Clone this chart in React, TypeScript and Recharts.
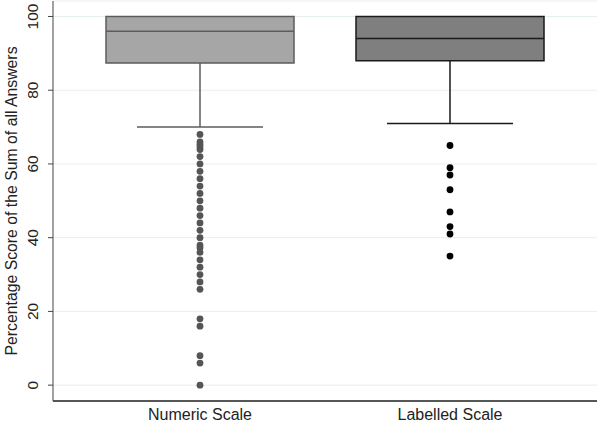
import React from "react";
import {
  ComposedChart,
  CartesianGrid,
  XAxis,
  YAxis,
  Scatter,
  ReferenceArea,
  ReferenceLine,
} from "recharts";

const categories = ["Numeric Scale", "Labelled Scale"];
const yTicks = [0, 20, 40, 60, 80, 100];

// box stats per category: [whisker low, q1, median, q3]
const numericBox = [70, 87.4, 96, 100];
const labelledBox = [71, 88, 94, 100];

const numericOutliers = [
  68, 66, 65.3, 64.6, 63.9, 62, 60, 58, 56, 54, 52, 50, 48, 46, 44, 42, 40, 38, 37.3, 36, 34, 32, 30,
  28, 26, 18, 16, 8, 6, 0,
];
const labelledOutliers = [65, 59, 57, 53, 47, 43, 41, 35];

const BOX_HALF = 0.376;
const CAP_HALF = 0.252;
const FONT = "Liberation Sans, Arial, sans-serif";

const boxes = [
  { pos: 1, stats: numericBox, fill: "#a6a6a6", stroke: "#5c5c5c" },
  { pos: 2, stats: labelledBox, fill: "#7f7f7f", stroke: "#1a1a1a" },
];

const YTick = ({ x, y, payload }: any) => (
  <text
    x={x - 15}
    y={y}
    transform={`rotate(-90, ${x - 15}, ${y})`}
    textAnchor="middle"
    dominantBaseline="central"
    fontSize={15.5}
    fill="#222"
    fontFamily={FONT}
  >
    {payload.value}
  </text>
);

const XTick = ({ x, y, payload }: any) => (
  <text x={x} y={y + 17} textAnchor="middle" fontSize={16} fill="#222" fontFamily={FONT}>
    {categories[payload.value - 1]}
  </text>
);

export default function App() {
  const numData = numericOutliers.map((v) => ({ x: 1, y: v }));
  const labData = labelledOutliers.map((v) => ({ x: 2, y: v }));

  return (
    <div style={{ width: 600, height: 422, background: "#fff" }}>
      <style>{`body{margin:0}`}</style>
      <ComposedChart width={600} height={422} margin={{ top: 1, right: 3, bottom: 0, left: 0 }}>
        <CartesianGrid horizontal vertical={false} stroke="#e6eff0" />
        <XAxis
          type="number"
          dataKey="x"
          domain={[0.412, 2.588]}
          ticks={[1, 2]}
          allowDataOverflow
          tick={<XTick />}
          tickLine={false}
          tickSize={0}
          height={21}
          axisLine={{ stroke: "#222", strokeWidth: 1.5 }}
        />
        <YAxis
          type="number"
          dataKey="y"
          domain={[-4.3, 104.2]}
          ticks={yTicks}
          allowDataOverflow
          width={53}
          tickSize={5}
          tickMargin={0}
          tick={<YTick />}
          tickLine={{ stroke: "#444" }}
          axisLine={{ stroke: "#444" }}
          label={{
            value: "Percentage Score of the Sum of all Answers",
            angle: -90,
            position: "insideLeft",
            offset: 11,
            style: { textAnchor: "middle", fontSize: 15.8, fill: "#222", fontFamily: FONT },
          }}
        />
        {boxes.map((b) => (
          <ReferenceArea
            key={"area" + b.pos}
            x1={b.pos - BOX_HALF}
            x2={b.pos + BOX_HALF}
            y1={b.stats[1]}
            y2={b.stats[3]}
            fill={b.fill}
            fillOpacity={1}
            stroke={b.stroke}
            strokeWidth={1.5}
          />
        ))}
        {boxes.map((b) => (
          <ReferenceLine
            key={"med" + b.pos}
            segment={[
              { x: b.pos - BOX_HALF, y: b.stats[2] },
              { x: b.pos + BOX_HALF, y: b.stats[2] },
            ]}
            stroke={b.stroke}
            strokeWidth={1.5}
          />
        ))}
        {boxes.map((b) => (
          <ReferenceLine
            key={"wh" + b.pos}
            segment={[
              { x: b.pos, y: b.stats[1] },
              { x: b.pos, y: b.stats[0] },
            ]}
            stroke={b.stroke}
            strokeWidth={1.5}
          />
        ))}
        {boxes.map((b) => (
          <ReferenceLine
            key={"cap" + b.pos}
            segment={[
              { x: b.pos - CAP_HALF, y: b.stats[0] },
              { x: b.pos + CAP_HALF, y: b.stats[0] },
            ]}
            stroke={b.stroke}
            strokeWidth={1.5}
          />
        ))}
        <Scatter
          data={numData}
          fill="#555"
          isAnimationActive={false}
          shape={(p: any) => <circle cx={p.cx} cy={p.cy} r={3.4} fill="#555" />}
        />
        <Scatter
          data={labData}
          fill="#000"
          isAnimationActive={false}
          shape={(p: any) => <circle cx={p.cx} cy={p.cy} r={3.4} fill="#000" />}
        />
      </ComposedChart>
    </div>
  );
}
